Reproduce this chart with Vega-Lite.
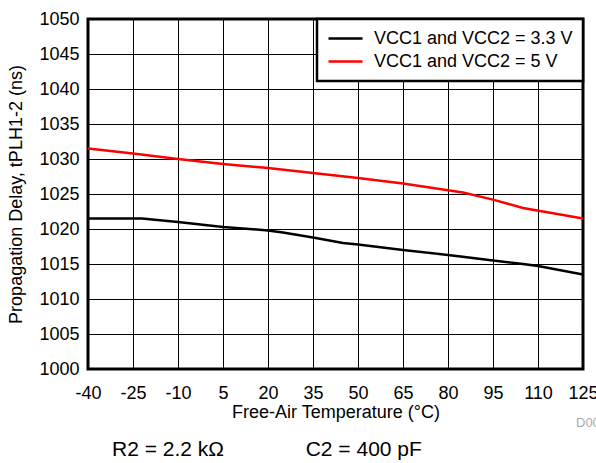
{
  "$schema": "https://vega.github.io/schema/vega-lite/v6.json",
  "padding": {"left": 6, "top": 8, "right": 0, "bottom": 6},
  "config": {"font": "Liberation Sans", "view": {"stroke": null}},
  "title": {"text": "R2 = 2.2 kΩ\u00a0\u00a0\u00a0\u00a0\u00a0\u00a0\u00a0\u00a0\u00a0\u00a0\u00a0\u00a0\u00a0\u00a0C2 = 400 pF", "orient": "bottom", "anchor": "start", "frame": "group", "dx": 24, "offset": 7, "fontSize": 21, "fontWeight": "normal", "color": "#000000"},
  "bounds": "flush",
  "vconcat": [
    {
      "width": 495,
      "height": 350,
      "title": {"text": "D00", "orient": "bottom", "anchor": "start", "frame": "group", "dx": 488, "offset": -4, "fontSize": 13, "fontWeight": "normal", "color": "#aaaaaa"},
      "view": {"stroke": "#000000", "strokeWidth": 3},
      "data": {"values": [
        {"temp": -40, "delay": 1021.5, "series": "VCC1 and VCC2 = 3.3 V"},
        {"temp": -22, "delay": 1021.5, "series": "VCC1 and VCC2 = 3.3 V"},
        {"temp": -10, "delay": 1021.0, "series": "VCC1 and VCC2 = 3.3 V"},
        {"temp": 5, "delay": 1020.3, "series": "VCC1 and VCC2 = 3.3 V"},
        {"temp": 20, "delay": 1019.8, "series": "VCC1 and VCC2 = 3.3 V"},
        {"temp": 25, "delay": 1019.5, "series": "VCC1 and VCC2 = 3.3 V"},
        {"temp": 35, "delay": 1018.8, "series": "VCC1 and VCC2 = 3.3 V"},
        {"temp": 45, "delay": 1018.0, "series": "VCC1 and VCC2 = 3.3 V"},
        {"temp": 50, "delay": 1017.8, "series": "VCC1 and VCC2 = 3.3 V"},
        {"temp": 65, "delay": 1017.0, "series": "VCC1 and VCC2 = 3.3 V"},
        {"temp": 80, "delay": 1016.3, "series": "VCC1 and VCC2 = 3.3 V"},
        {"temp": 95, "delay": 1015.5, "series": "VCC1 and VCC2 = 3.3 V"},
        {"temp": 105, "delay": 1015.0, "series": "VCC1 and VCC2 = 3.3 V"},
        {"temp": 110, "delay": 1014.7, "series": "VCC1 and VCC2 = 3.3 V"},
        {"temp": 125, "delay": 1013.5, "series": "VCC1 and VCC2 = 3.3 V"},
        {"temp": -40, "delay": 1031.5, "series": "VCC1 and VCC2 = 5 V"},
        {"temp": -25, "delay": 1030.8, "series": "VCC1 and VCC2 = 5 V"},
        {"temp": -10, "delay": 1030.0, "series": "VCC1 and VCC2 = 5 V"},
        {"temp": 5, "delay": 1029.3, "series": "VCC1 and VCC2 = 5 V"},
        {"temp": 20, "delay": 1028.7, "series": "VCC1 and VCC2 = 5 V"},
        {"temp": 35, "delay": 1028.0, "series": "VCC1 and VCC2 = 5 V"},
        {"temp": 50, "delay": 1027.3, "series": "VCC1 and VCC2 = 5 V"},
        {"temp": 65, "delay": 1026.5, "series": "VCC1 and VCC2 = 5 V"},
        {"temp": 85, "delay": 1025.2, "series": "VCC1 and VCC2 = 5 V"},
        {"temp": 95, "delay": 1024.2, "series": "VCC1 and VCC2 = 5 V"},
        {"temp": 105, "delay": 1023.0, "series": "VCC1 and VCC2 = 5 V"},
        {"temp": 125, "delay": 1021.5, "series": "VCC1 and VCC2 = 5 V"}
      ]},
      "mark": {"type": "line", "strokeWidth": 2.5},
      "encoding": {
        "x": {
          "field": "temp", "type": "quantitative",
          "scale": {"domain": [-40, 125], "nice": false, "zero": false},
          "axis": {
            "title": "Free-Air Temperature (°C)",
            "values": [-40, -25, -10, 5, 20, 35, 50, 65, 80, 95, 110, 125],
            "labelExpr": "'' + datum.value",
            "domain": false, "ticks": false,
            "grid": true, "gridColor": "#000000", "gridWidth": 1, "gridOpacity": 1,
            "labelFontSize": 18, "labelColor": "#000000", "labelPadding": 15, "labelFlush": false, "labelOverlap": false,
            "titleFontSize": 18, "titleFontWeight": "normal", "titleColor": "#000000", "titlePadding": 1
          }
        },
        "y": {
          "field": "delay", "type": "quantitative",
          "scale": {"domain": [1000, 1050], "nice": false, "zero": false},
          "axis": {
            "title": "Propagation Delay, tPLH1-2 (ns)",
            "values": [1000, 1005, 1010, 1015, 1020, 1025, 1030, 1035, 1040, 1045, 1050],
            "labelExpr": "'' + datum.value",
            "domain": false, "ticks": false,
            "grid": true, "gridColor": "#000000", "gridWidth": 1, "gridOpacity": 1,
            "labelFontSize": 18, "labelColor": "#000000", "labelPadding": 9, "labelFlush": false, "labelOverlap": false,
            "titleFontSize": 18, "titleFontWeight": "normal", "titleColor": "#000000", "titlePadding": 13
          }
        },
        "color": {
          "field": "series", "type": "nominal",
          "scale": {"domain": ["VCC1 and VCC2 = 3.3 V", "VCC1 and VCC2 = 5 V"], "range": ["#000000", "#ff0000"]},
          "legend": {
            "title": null, "orient": "top-right", "offset": 0,
            "fillColor": "#ffffff", "strokeColor": "#000000",
            "padding": 10, "labelFontSize": 18, "labelColor": "#000000", "labelLimit": 400,
            "symbolType": "stroke", "symbolSize": 1156, "symbolStrokeWidth": 2.5, "labelOffset": 10, "rowPadding": 4,
            "clipHeight": 19,
            "encode": {"legend": {"update": {"strokeWidth": {"value": 2.5}}}}
          }
        }
      }
    }
  ]
}
